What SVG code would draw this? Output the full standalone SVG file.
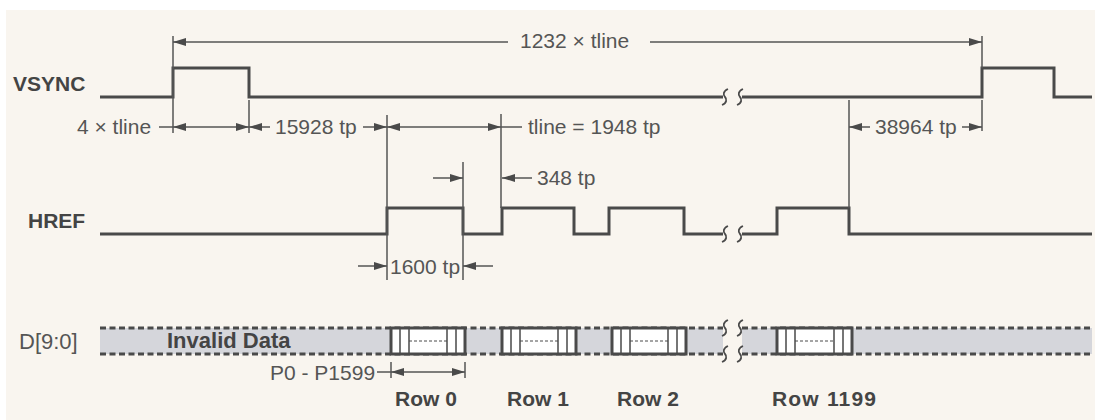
<svg xmlns="http://www.w3.org/2000/svg" width="1095" height="420" viewBox="0 0 1095 420">
<style>
.bg{fill:#f9f5ef}
.sig{fill:none;stroke:#4a4a4a;stroke-width:3;stroke-linejoin:miter}
.sq{fill:none;stroke:#4a4a4a;stroke-width:1.8}
.dim{fill:none;stroke:#555;stroke-width:1.5}
.dash{fill:none;stroke:#4a4a4a;stroke-width:3;stroke-dasharray:6 3.5}
.band{fill:#d5d6db}
.box{fill:#fff;stroke:#4a4a4a;stroke-width:3}
.in{stroke:#4a4a4a;stroke-width:1.5}
.ind{stroke:#4a4a4a;stroke-width:1;stroke-dasharray:3 2}
.t{font-family:"Liberation Sans",Arial,Helvetica,sans-serif;font-size:21px;fill:#555}
.b{font-family:"Liberation Sans",Arial,Helvetica,sans-serif;font-size:21px;font-weight:bold;fill:#444}
.big{font-size:22px}
</style>
<defs>
<marker id="ah" markerUnits="userSpaceOnUse" markerWidth="14" markerHeight="9" refX="13" refY="4" orient="auto-start-reverse" viewBox="0 0 14 9">
<path d="M0,0 L13,4 L0,8 z" fill="#4a4a4a"/>
</marker>
<path id="sq" d="M3,-8 C-2,-6 -2,-2 0,0 C2,2 2,6 -3,8"/>
</defs>
<rect class="bg" x="6" y="10" width="1089" height="410"/>

<g id="labels">
<text class="b" x="13" y="91">VSYNC</text>
<text class="b" x="28" y="228">HREF</text>
<text class="t big" x="19" y="349">D[9:0]</text>
</g>

<g id="vsync">
<path class="sig" d="M100,97 H173 V68 H249 V97 H723"/>
<path class="sig" d="M742,97 H982 V68 H1054 V97 H1092"/>
<use href="#sq" class="sq" transform="translate(725,97)"/>
<use href="#sq" class="sq" transform="translate(740,97)"/>
</g>

<g id="href">
<path class="sig" d="M100,234 H387 V208 H463 V234 H502 V208 H574 V234 H609 V208 H684 V234 H723"/>
<path class="sig" d="M742,234 H777 V208 H849 V234 H1092"/>
<use href="#sq" class="sq" transform="translate(725,234)"/>
<use href="#sq" class="sq" transform="translate(740,234)"/>
</g>

<g id="data-bus">
<rect class="band" x="100" y="328" width="623" height="26"/>
<rect class="band" x="742" y="328" width="350" height="26"/>
<path class="dash" d="M100,328 H723 M742,328 H1092 M100,354 H723 M742,354 H1092"/>
<use href="#sq" class="sq" transform="translate(725,328)"/>
<use href="#sq" class="sq" transform="translate(740,328)"/>
<use href="#sq" class="sq" transform="translate(725,354)"/>
<use href="#sq" class="sq" transform="translate(740,354)"/>
<text class="b big" x="167" y="348">Invalid Data</text>
</g>

<g id="row0">
<rect class="box" x="391" y="328" width="74" height="26"/>
<path class="in" d="M400,328 V354 M409,328 V354 M447,328 V354 M456,328 V354"/>
<path class="ind" d="M409,341 H447"/>
<text class="b" x="395" y="406">Row 0</text>
</g>
<g id="row1">
<rect class="box" x="502" y="328" width="74" height="26"/>
<path class="in" d="M511,328 V354 M520,328 V354 M558,328 V354 M567,328 V354"/>
<path class="ind" d="M520,341 H558"/>
<text class="b" x="507" y="406">Row 1</text>
</g>
<g id="row2">
<rect class="box" x="612" y="328" width="74" height="26"/>
<path class="in" d="M621,328 V354 M630,328 V354 M668,328 V354 M677,328 V354"/>
<path class="ind" d="M630,341 H668"/>
<text class="b" x="617" y="406">Row 2</text>
</g>
<g id="row1199">
<rect class="box" x="777" y="328" width="75" height="26"/>
<path class="in" d="M786,328 V354 M795,328 V354 M834,328 V354 M843,328 V354"/>
<path class="ind" d="M795,341 H834"/>
<text class="b" x="772" y="406" textLength="104">Row 1199</text>
</g>

<g id="connectors">
<path class="dim" d="M173,36 V133 M249,100 V133 M387,115 V280 M463,162 V280 M501,114 V208 M849,100 V208 M982,36 V68 M982,100 V131 M391,362 V378 M465,362 V378"/>
<line class="dim" x1="508" y1="42" x2="173" y2="42" marker-end="url(#ah)"/>
<line class="dim" x1="650" y1="42" x2="982" y2="42" marker-end="url(#ah)"/>
<line class="dim" x1="159" y1="127" x2="173" y2="127"/>
<line class="dim" x1="173" y1="127" x2="249" y2="127" marker-start="url(#ah)" marker-end="url(#ah)"/>
<line class="dim" x1="270" y1="127" x2="249" y2="127" marker-end="url(#ah)"/>
<line class="dim" x1="363" y1="127" x2="387" y2="127" marker-end="url(#ah)"/>
<line class="dim" x1="387" y1="127" x2="501" y2="127" marker-start="url(#ah)" marker-end="url(#ah)"/>
<line class="dim" x1="501" y1="127" x2="522" y2="127"/>
<line class="dim" x1="870" y1="127" x2="849" y2="127" marker-end="url(#ah)"/>
<line class="dim" x1="962" y1="127" x2="982" y2="127" marker-end="url(#ah)"/>
<line class="dim" x1="433" y1="178" x2="463" y2="178" marker-end="url(#ah)"/>
<line class="dim" x1="532" y1="178" x2="502" y2="178" marker-end="url(#ah)"/>
<line class="dim" x1="358" y1="266" x2="387" y2="266" marker-end="url(#ah)"/>
<line class="dim" x1="493" y1="266" x2="463" y2="266" marker-end="url(#ah)"/>
<line class="dim" x1="377" y1="372" x2="391" y2="372"/>
<line class="dim" x1="391" y1="372" x2="465" y2="372" marker-start="url(#ah)" marker-end="url(#ah)"/>
</g>

<g id="dim-labels">
<text class="t" x="520" y="48">1232 × tline</text>
<text class="t" x="77" y="134">4 × tline</text>
<text class="t" x="275" y="134">15928 tp</text>
<text class="t" x="528" y="134">tline = 1948 tp</text>
<text class="t" x="875" y="134">38964 tp</text>
<text class="t" x="537" y="185">348 tp</text>
<text class="t" x="390" y="274">1600 tp</text>
<text class="t" x="270" y="380">P0 - P1599</text>
</g>
</svg>
